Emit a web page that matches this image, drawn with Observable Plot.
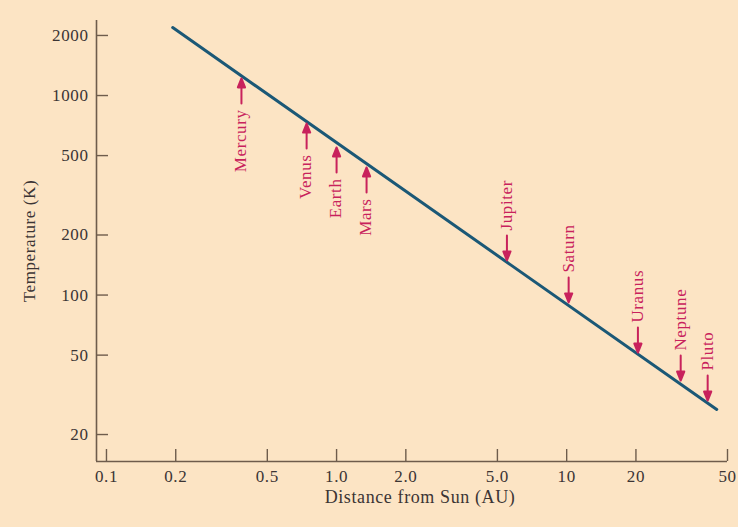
<!DOCTYPE html>
<html>
<head>
<meta charset="utf-8">
<script src="https://cdn.jsdelivr.net/npm/d3@7"></script>
<script src="https://cdn.jsdelivr.net/npm/@observablehq/plot@0.6"></script>
<style>
  html, body { margin: 0; padding: 0; background: #fce4c4; }
  #chart { width: 738px; height: 527px; }
</style>
</head>
<body>
<div id="chart"></div>
<script>
// ---- data ----
const xTicks = [0.1, 0.2, 0.5, 1, 2, 5, 10, 20, 50];
const xTickLabels = ["0.1", "0.2", "0.5", "1.0", "2.0", "5.0", "10", "20", "50"];
const yTicks = [20, 50, 100, 200, 500, 1000, 2000];
const yTickLabels = ["20", "50", "100", "200", "500", "1000", "2000"];

// straight temperature line (end points)
const lineDist = [0.194, 44.9];
const lineTemp = [2190, 26.7];

// inner planets (arrows point up to the line, label below)
const innerNames = ["Mercury", "Venus", "Earth", "Mars"];
const innerDist = [0.386, 0.741, 1.0, 1.35];
const innerTemp = [1218, 724, 549, 436];

// outer planets (arrows point down to the line, label above)
const outerNames = ["Jupiter", "Saturn", "Uranus", "Neptune", "Pluto"];
const outerDist = [5.5, 10.2, 20.4, 31.3, 41.0];
const outerTemp = [149, 91.8, 51.5, 37.3, 29.6];

const xTitle = "Distance from Sun (AU)";
const yTitle = "Temperature (K)";

// ---- build tables ----
const lineData = lineDist.map((d, i) => ({dist: d, temp: lineTemp[i]}));
const inner = innerNames.map((n, i) => ({name: n, dist: innerDist[i], temp: innerTemp[i]}));
const outer = outerNames.map((n, i) => ({name: n, dist: outerDist[i], temp: outerTemp[i]}));
const xTickData = xTicks.map((v, i) => ({v, label: xTickLabels[i]}));
const yTickData = yTicks.map((v, i) => ({v, label: yTickLabels[i]}));

const axisColor = "#6e5c4c";
const textColor = "#3b3434";
const lineColor = "#1b5876";
const planetColor = "#c8225c";
const font = "'Liberation Serif', serif";

const arrowShape = {
  draw(context, l) {
    context.moveTo(0, 0);
    context.lineTo(0, -l + 8);
    context.moveTo(0, -l);
    context.lineTo(-3.6, -l + 9);
    context.lineTo(3.6, -l + 9);
    context.closePath();
  }
};

const chart = Plot.plot({
  width: 738,
  height: 527,
  marginLeft: 96,
  marginRight: 11,
  marginTop: 20,
  marginBottom: 66,
  x: {type: "log", domain: [0.0905, 50]},
  y: {type: "log", domain: [14.65, 2377]},
  style: {background: "#fce4c4", fontFamily: font, fontSize: "17px", color: textColor, letterSpacing: "0.6px"},
  marks: [
    // axis lines
    Plot.ruleX([0.0905], {stroke: axisColor, strokeWidth: 1.6}),
    Plot.ruleY([14.65], {stroke: axisColor, strokeWidth: 1.6}),
    // tick marks (inward)
    Plot.axisX({ticks: xTicks, tickSize: 12, dy: -12, fill: "none", stroke: axisColor, strokeWidth: 1.4, label: null}),
    Plot.axisY({ticks: yTicks, tickSize: 12, dx: 12, fill: "none", stroke: axisColor, strokeWidth: 1.4, label: null}),
    // tick labels
    Plot.text(xTickData, {x: "v", text: "label", frameAnchor: "bottom", lineAnchor: "middle", dy: 15, fill: textColor, fontSize: 17}),
    Plot.text(yTickData, {y: "v", text: "label", frameAnchor: "left", textAnchor: "end", dx: -8, fill: textColor, fontSize: 17}),
    // axis titles
    Plot.text([xTitle], {frameAnchor: "bottom", lineAnchor: "middle", dx: 8, dy: 36, fill: textColor, fontSize: 18}),
    Plot.text([yTitle], {frameAnchor: "left", textAnchor: "middle", dx: -67, rotate: -90, fill: textColor, fontSize: 17}),
    // temperature line
    Plot.line(lineData, {x: "dist", y: "temp", stroke: lineColor, strokeWidth: 3}),
    // arrows
    Plot.vector(inner, {x: "dist", y: "temp", length: 25, rotate: 0, anchor: "end", shape: arrowShape, stroke: planetColor, fill: planetColor, strokeWidth: 2}),
    Plot.vector(outer, {x: "dist", y: "temp", length: 25, rotate: 180, anchor: "end", shape: arrowShape, stroke: planetColor, fill: planetColor, strokeWidth: 2}),
    // planet labels
    Plot.text(inner, {x: "dist", y: "temp", text: "name", rotate: -90, textAnchor: "end", dy: 31, dx: -1, fill: planetColor, fontSize: 17}),
    Plot.text(outer, {x: "dist", y: "temp", text: "name", rotate: -90, textAnchor: "start", dy: -30, fill: planetColor, fontSize: 17})
  ]
});
document.getElementById("chart").appendChild(chart);
</script>
</body>
</html>
